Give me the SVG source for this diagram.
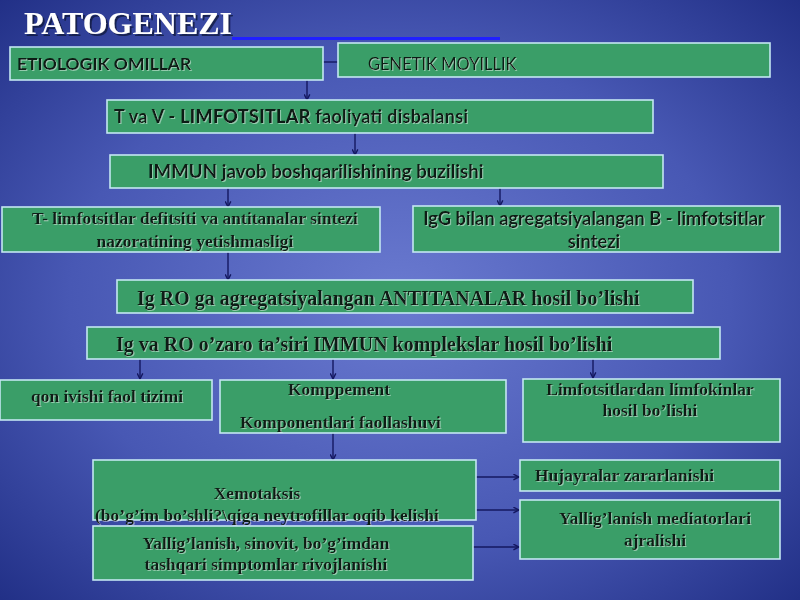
<svg xmlns="http://www.w3.org/2000/svg" width="800" height="600" viewBox="0 0 800 600">
<defs>
<radialGradient id="bg" cx="0.5" cy="0.5" r="0.75">
<stop offset="0" stop-color="#6a7ad0"/>
<stop offset="0.55" stop-color="#4858b4"/>
<stop offset="1" stop-color="#1c2a80"/>
</radialGradient>
<filter id="sh" x="-5%" y="-20%" width="110%" height="140%">
<feDropShadow dx="1" dy="1" stdDeviation="0.4" flood-color="#ffffff" flood-opacity="0.45"/>
</filter>
<filter id="tsh" x="-5%" y="-20%" width="110%" height="140%">
<feDropShadow dx="2" dy="2" stdDeviation="0.6" flood-color="#101840" flood-opacity="0.8"/>
</filter>
<marker id="ah" viewBox="0 0 10 10" refX="9" refY="5" markerWidth="7" markerHeight="7" orient="auto" markerUnits="userSpaceOnUse">
<path d="M1,1 L9,5 L1,9" fill="none" stroke="#141860" stroke-width="2"/>
</marker>
</defs>
<style>
.box{fill:#3a9e68;stroke:#c4e6f2;stroke-width:1.6}
.sans{font-family:Lato,"Liberation Sans",sans-serif;fill:#0c1c12;filter:url(#sh)}
.serif{font-family:"Liberation Serif",serif;font-weight:bold;fill:#0c1c12;filter:url(#sh)}
.s{font-size:17.5px}
.L{font-size:20px}
.c{text-anchor:middle}
.con{stroke:#141860;stroke-width:1.4;fill:none}
.arr{marker-end:url(#ah)}
</style>
<rect width="800" height="600" fill="url(#bg)"/>
<g id="title">
<text x="24" y="34" font-family="Liberation Serif,serif" font-weight="bold" font-size="32" fill="#ffffff" filter="url(#tsh)">PATOGENEZI</text>
<line x1="232" y1="38.5" x2="500" y2="38.5" stroke="#2020ff" stroke-width="3"/>
</g>
<g id="connectors">
<line class="con" x1="323" y1="62" x2="338" y2="62"/>
<line class="con arr" x1="307" y1="80" x2="307" y2="100"/>
<line class="con arr" x1="355" y1="133" x2="355" y2="155"/>
<line class="con arr" x1="228" y1="188" x2="228" y2="207"/>
<line class="con arr" x1="500" y1="188" x2="500" y2="206"/>
<line class="con arr" x1="228" y1="252" x2="228" y2="280"/>
<line class="con arr" x1="140" y1="359" x2="140" y2="379"/>
<line class="con arr" x1="333" y1="359" x2="333" y2="379"/>
<line class="con arr" x1="593" y1="359" x2="593" y2="378"/>
<line class="con arr" x1="333" y1="433" x2="333" y2="460"/>
<line class="con arr" x1="476" y1="477" x2="519" y2="477"/>
<line class="con arr" x1="476" y1="510" x2="519" y2="510"/>
<line class="con arr" x1="473" y1="547" x2="519" y2="547"/>
</g>
<g id="etiologik">
<rect class="box" x="10" y="47" width="313" height="33"/>
<text class="sans" x="17" y="70" font-size="17.5" font-weight="bold">ETIOLOGIK OMILLAR</text>
</g>
<g id="genetik">
<rect class="box" x="338" y="43" width="432" height="34"/>
<text class="sans" x="368" y="70" font-size="16.5">GENETIK MOYILLIK</text>
</g>
<g id="tv">
<rect class="box" x="107" y="100" width="546" height="33"/>
<text class="sans" x="114" y="123" font-size="18" font-weight="bold" textLength="354" lengthAdjust="spacing">T  va  V - <tspan font-weight="900">LIMFOTSITLAR</tspan> faoliyati disbalansi</text>
</g>
<g id="immun">
<rect class="box" x="110" y="155" width="553" height="33"/>
<text class="sans" x="148" y="178" font-size="18.7" font-weight="bold">IMMUN javob boshqarilishining buzilishi</text>
</g>
<g id="tlimf">
<rect class="box" x="2" y="207" width="378" height="45"/>
<text class="serif s c" x="195" y="224">T-  limfotsitlar defitsiti va antitanalar sintezi</text>
<text class="serif s c" x="195" y="247">nazoratining yetishmasligi</text>
</g>
<g id="igg">
<rect class="box" x="413" y="206" width="367" height="46"/>
<text class="sans c" x="594" y="225" font-size="18.3" font-weight="bold">IgG bilan agregatsiyalangan B - limfotsitlar</text>
<text class="sans c" x="594" y="248" font-size="18.3" font-weight="bold">sintezi</text>
</g>
<g id="igro">
<rect class="box" x="117" y="280" width="576" height="33"/>
<text class="serif L" x="137" y="305">Ig RO ga agregatsiyalangan ANTITANALAR hosil bo’lishi</text>
</g>
<g id="igvaro">
<rect class="box" x="87" y="327" width="633" height="32"/>
<text class="serif L" x="116" y="351">Ig va RO o’zaro ta’siri  IMMUN komplekslar hosil bo’lishi</text>
</g>
<g id="qon">
<rect class="box" x="0" y="380" width="212" height="40"/>
<text class="serif s c" x="107" y="402">qon ivishi faol tizimi</text>
</g>
<g id="komp">
<rect class="box" x="220" y="380" width="286" height="53"/>
<text class="serif s" x="288" y="395">Komppement</text>
<text class="serif s" x="240" y="428">Komponentlari faollashuvi</text>
</g>
<g id="limfokin">
<rect class="box" x="523" y="379" width="257" height="63"/>
<text class="serif s c" x="650" y="395">Limfotsitlardan limfokinlar</text>
<text class="serif s c" x="650" y="416">hosil bo’lishi</text>
</g>
<g id="xemo">
<rect class="box" x="93" y="460" width="383" height="60"/>
<text class="serif s c" x="257" y="499">Xemotaksis</text>
<text class="serif s" x="95" y="521">(bo’g’im bo’shli?\qiga neytrofillar oqib kelishi</text>
</g>
<g id="yallig">
<rect class="box" x="93" y="526" width="380" height="54"/>
<text class="serif s c" x="266" y="549">Yallig’lanish, sinovit, bo’g’imdan</text>
<text class="serif s c" x="266" y="570">tashqari simptomlar rivojlanishi</text>
</g>
<g id="hujay">
<rect class="box" x="520" y="460" width="260" height="31"/>
<text class="serif s" x="535" y="481">Hujayralar zararlanishi</text>
</g>
<g id="mediator">
<rect class="box" x="520" y="500" width="260" height="59"/>
<text class="serif s c" x="655" y="524">Yallig’lanish mediatorlari</text>
<text class="serif s c" x="655" y="546">ajralishi</text>
</g>
</svg>
